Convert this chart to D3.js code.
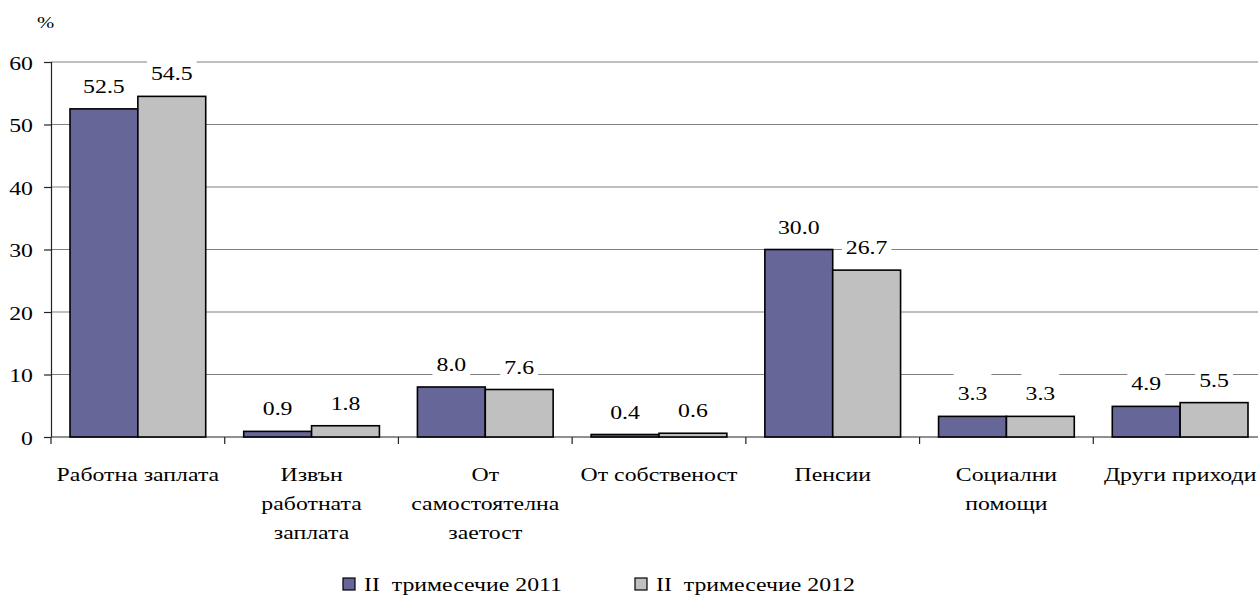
<!DOCTYPE html>
<html>
<head>
<meta charset="utf-8">
<script src="https://cdn.jsdelivr.net/npm/d3@7"></script>
<style>
  body { margin: 0; background: #fff; }
</style>
</head>
<body>
<svg id="chart" width="1258" height="605"></svg>
<script>
var categories = [
    ["Работна заплата"],
    ["Извън", "работната", "заплата"],
    ["От", "самостоятелна", "заетост"],
    ["От собственост"],
    ["Пенсии"],
    ["Социални", "помощи"],
    ["Други приходи"]
];
var series2011 = [52.5, 0.9, 8.0, 0.4, 30.0, 3.3, 4.9];
var series2012 = [54.5, 1.8, 7.6, 0.6, 26.7, 3.3, 5.5];
var seriesNames = ["II  тримесечие 2011", "II  тримесечие 2012"];
var yTicks = [0, 10, 20, 30, 40, 50, 60];

var svg = d3.select('#chart')
    .attr('font-family', 'Liberation Serif');
var plotLeft = 51, plotRight = 1267, plotTop = 62, plotBottom = 437;
var colors = ['#666699', '#c0c0c0'];
var fs = '19.5px';
var stretch = 1.22;   // the reference text is drawn a bit wide

var x = d3.scaleBand()
    .domain(d3.range(categories.length))
    .range([plotLeft, plotRight]);

var x1 = d3.scaleBand()
    .domain([0, 1])
    .range([0, x.bandwidth()])
    .paddingOuter(0.28)
    .paddingInner(0);

var y = d3.scaleLinear()
    .domain([0, 60])
    .range([plotBottom, plotTop]);

// gridlines
svg.append('g')
    .selectAll('line')
    .data(yTicks.slice(1))
    .enter()
    .append('line')
    .attr('x1', plotLeft)
    .attr('x2', 1258)
    .attr('y1', function (d) { return y(d); })
    .attr('y2', function (d) { return y(d); })
    .attr('stroke', '#808080')
    .attr('stroke-width', 1.2);

// y axis
var yAxis = d3.axisLeft(y).tickValues(yTicks).tickSize(7).tickFormat(d3.format('d'));
var gy = svg.append('g')
    .attr('transform', 'translate(' + plotLeft + ',0)')
    .call(yAxis);
gy.attr('font-family', null).attr('font-size', null);
gy.selectAll('path, line').attr('stroke', '#222').attr('stroke-width', 1.2);
gy.select('path.domain').attr('d', 'M0.5,' + plotTop + 'V' + plotBottom);
gy.selectAll('text')
    .attr('x', 0)
    .attr('dy', '0.36em')
    .attr('transform', 'translate(-18,0) scale(' + stretch + ',1)')
    .attr('font-size', fs)
    .attr('fill', '#000');

svg.append('text')
    .attr('transform', 'translate(37,28) scale(' + stretch + ',1)')
    .attr('font-size', '17px')
    .text('%');

// x axis line and category ticks
svg.append('line')
    .attr('x1', plotLeft).attr('x2', 1258)
    .attr('y1', plotBottom).attr('y2', plotBottom)
    .attr('stroke', '#222').attr('stroke-width', 1.2);

svg.append('g')
    .selectAll('line')
    .data(d3.range(categories.length + 1))
    .enter()
    .append('line')
    .attr('x1', function (d) { return plotLeft + d * x.step(); })
    .attr('x2', function (d) { return plotLeft + d * x.step(); })
    .attr('y1', plotBottom)
    .attr('y2', plotBottom + 7)
    .attr('stroke', '#222')
    .attr('stroke-width', 1.2);

var data = [series2011, series2012];

var groups = svg.selectAll('g.cat')
    .data(categories)
    .enter()
    .append('g')
    .attr('class', 'cat')
    .attr('transform', function (d, i) {
        return 'translate(' + x(i) + ',0)';
    });

data.forEach(function (vals, s) {
    groups.append('rect')
        .attr('x', x1(s))
        .attr('y', function (d, i) { return y(vals[i]); })
        .attr('width', x1.bandwidth())
        .attr('height', function (d, i) { return plotBottom - y(vals[i]); })
        .attr('fill', colors[s])
        .attr('stroke', '#000')
        .attr('stroke-width', 1.6);
});

// value labels with white boxes behind them
data.forEach(function (vals, s) {
    var lab = groups.append('g')
        .attr('transform', function (d, i) {
            return 'translate(' + (x1(s) + x1.bandwidth() / 2) + ',' + (y(vals[i]) - 16) + ')';
        });
    var box = lab.append('rect')
        .attr('y', -29)
        .attr('height', 34)
        .attr('fill', '#fff');
    var txt = lab.append('text')
        .attr('text-anchor', 'middle')
        .attr('transform', 'scale(' + stretch + ',1)')
        .attr('font-size', fs)
        .text(function (d, i) { return vals[i].toFixed(1); });
    txt.each(function () {
        var w = this.getComputedTextLength() * stretch + 8;
        d3.select(this.parentNode).select('rect')
            .attr('x', -w / 2)
            .attr('width', w);
    });
});

// category labels
groups.append('text')
    .attr('text-anchor', 'middle')
    .attr('font-size', fs)
    .attr('transform', 'translate(' + (x.bandwidth() / 2) + ',481) scale(' + stretch + ',1)')
    .selectAll('tspan')
    .data(function (d) { return d; })
    .enter()
    .append('tspan')
    .attr('x', 0)
    .attr('dy', function (d, i) { return i === 0 ? 0 : 29; })
    .text(function (d) { return d; });

// legend
var legendX = [343, 635];
seriesNames.forEach(function (name, s) {
    svg.append('rect')
        .attr('x', legendX[s])
        .attr('y', 578)
        .attr('width', 12)
        .attr('height', 12)
        .attr('fill', colors[s])
        .attr('stroke', '#000')
        .attr('stroke-width', 1.2);
    svg.append('text')
        .attr('transform', 'translate(' + (legendX[s] + 21) + ',591) scale(' + stretch + ',1)')
        .attr('font-size', fs)
        .style('white-space', 'pre')
        .text(name);
});
</script>
</body>
</html>
